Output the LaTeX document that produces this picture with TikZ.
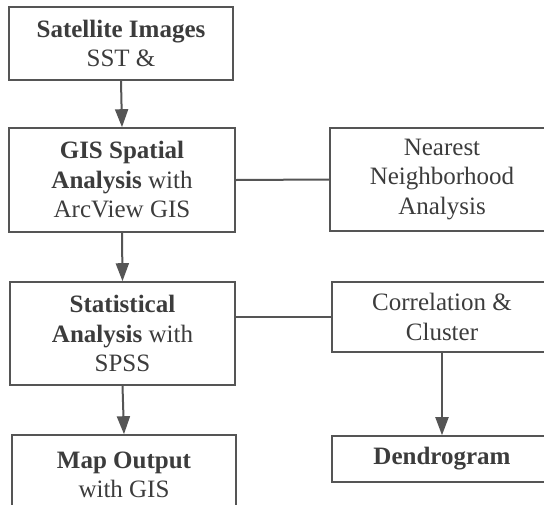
\documentclass[tikz,border=0pt]{standalone}
\usepackage{fontspec}
\setmainfont{Liberation Serif}
\usetikzlibrary{arrows.meta}
\definecolor{linegray}{HTML}{555555}
\definecolor{textgray}{HTML}{3C3C3C}
\begin{document}
\begin{tikzpicture}[x=1pt,y=-1pt,
  box/.style={draw=linegray,line width=1.6pt,inner sep=0pt,align=center,text=textgray,font=\fontsize{25}{29.5}\selectfont,anchor=center},
  conn/.style={draw=linegray,line width=2pt},
  arr/.style={conn,-{Triangle[width=13pt,length=18pt]}}]
\useasboundingbox (0,0) rectangle (544,504);
\fill[white] (0,0) rectangle (544,504);
\clip (0,0) rectangle (544,504);
\node[box,minimum width=224pt,minimum height=73pt] (sat) at (121,43.5) {\textbf{Satellite Images}\\SST \&};
\node[box,minimum width=226pt,minimum height=104pt] (gis) at (122,180) {\textbf{GIS Spatial}\\\textbf{Analysis} with\\ArcView GIS};
\node[box,minimum width=224pt,minimum height=103pt] (nn) at (442,179.5) {Nearest\\Neighborhood\\Analysis};
\node[box,minimum width=225pt,minimum height=103pt] (stat) at (122.5,333.5) {\textbf{Statistical}\\\textbf{Analysis} with\\SPSS};
\node[box,minimum width=220pt,minimum height=70pt] (corr) at (442,317) {Correlation \&\\Cluster};
\node[box,minimum width=224pt,minimum height=80pt] (map) at (124,475) {\textbf{Map Output}\\with GIS};
\node[box,minimum width=220pt,minimum height=46pt] (den) at (442,459) {\textbf{Dendrogram}};
\draw[arr] (sat.south) -- (gis.north);
\draw[conn] (gis.east) -- (nn.west);
\draw[arr] (gis.south) -- (stat.north);
\draw[conn] (corr.west -| stat.east) -- (corr.west);
\draw[arr] (stat.south) -- (map.north);
\draw[arr] (corr.south) -- (den.north);
\end{tikzpicture}
\end{document}
